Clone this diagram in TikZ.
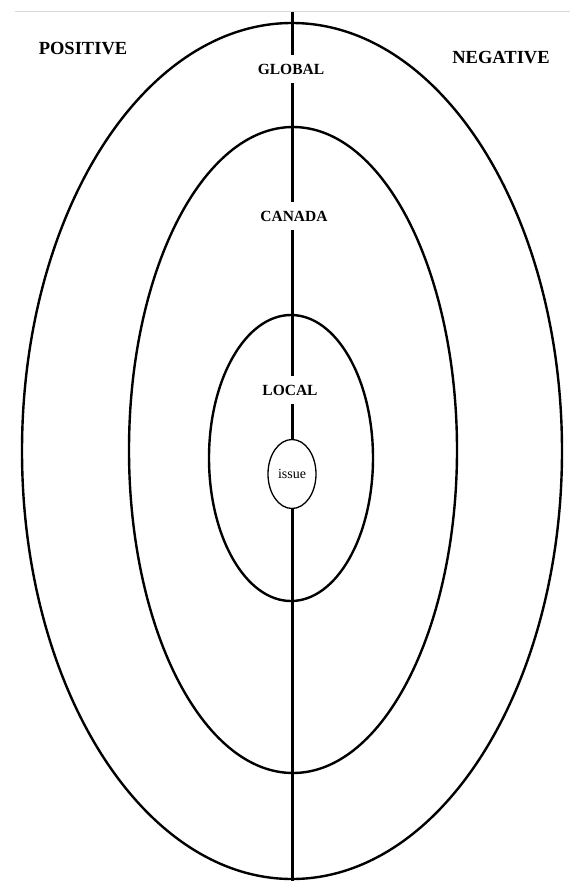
\documentclass[tikz,border=0pt]{standalone}
\usepackage{fontspec}
\setmainfont{Liberation Serif}
\usetikzlibrary{shapes.geometric}
\begin{document}
\begin{tikzpicture}[x=1pt,y=-1pt,
  ring/.style={line width=2.4pt},
  axis/.style={line width=3pt},
  lvl/.style={fill=white,inner xsep=1pt,inner ysep=0pt,minimum height=28pt,font=\bfseries\fontsize{15.5}{18}\selectfont},
  side/.style={inner sep=0pt,font=\bfseries\fontsize{18.5}{21}\selectfont}]
\useasboundingbox[fill=white] (0,0) rectangle (570,881);
\draw[gray!30,line width=1pt] (15,11) -- (570,11);
\coordinate (top) at (292,12);
\coordinate (bot) at (292,881);
\draw[ring] (292,451) ellipse [x radius=270,y radius=428];
\draw[ring] (293,450) ellipse [x radius=164,y radius=323];
\draw[ring] (291,458) ellipse [x radius=82,y radius=143];
\draw[axis] (top) -- (bot);
\node[draw,fill=white,ellipse,line width=1.3pt,minimum width=48pt,minimum height=69pt,inner sep=0pt,font=\fontsize{14}{16}\selectfont] (issue) at (292,474) {issue};
\node[lvl] (global) at (291,69) {GLOBAL};
\node[lvl] (canada) at (294,216) {CANADA};
\node[lvl] (local) at (290,390) {LOCAL};
\node[side] (pos) at (83,49) {POSITIVE};
\node[side] (neg) at (501,58) {NEGATIVE};
\end{tikzpicture}
\end{document}
